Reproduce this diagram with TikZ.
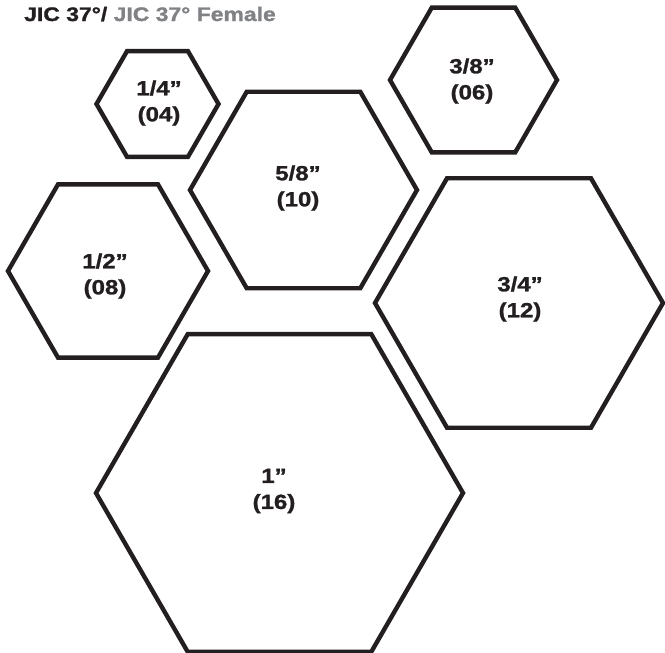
\documentclass[tikz,border=0pt]{standalone}
\usepackage{fontspec}
\setmainfont{Liberation Sans}
\newfontfamily\heavyfont{Liberation Sans Bold}[FakeBold=1.2]
\usetikzlibrary{shapes.geometric}
\definecolor{ink}{HTML}{231F20}
\definecolor{greyt}{HTML}{808285}
\tikzset{
  hexa/.style={draw=ink, line width=4.4pt, regular polygon, regular polygon sides=6, inner sep=0pt, minimum size=#1},
  lab/.style={align=center, text=ink, inner sep=0pt, font=\fontsize{20.5}{26}\selectfont\heavyfont},
}
\newcommand{\wideit}[1]{\scalebox{1.17}[1]{#1}}
\begin{document}
\begin{tikzpicture}[x=1pt,y=-1pt]
\useasboundingbox (0,0) rectangle (665,653);
% title
\node[anchor=base west, inner sep=0pt, font=\fontsize{19.6}{22}\selectfont\heavyfont] (title) at (24,21)
  {\wideit{\textcolor{ink}{JIC 37°/} \textcolor{greyt}{JIC 37° Female}}};
% hexagons
\node[hexa=122pt] (h04) at (157.5,104) {};
\node[hexa=167pt] (h06) at (473.5,80) {};
\node[hexa=200pt] (h08) at (108,271) {};
\node[hexa=227pt] (h10) at (303.5,190) {};
\node[hexa=288pt] (h12) at (519,303) {};
\node[hexa=367pt] (h16) at (279.5,493) {};
% labels
\node[lab] (l04) at (159,103) {\wideit{1/4”}\\\wideit{(04)}};
\node[lab] (l06) at (472,81) {\wideit{3/8”}\\\wideit{(06)}};
\node[lab] (l08) at (105,276) {\wideit{1/2”}\\\wideit{(08)}};
\node[lab] (l10) at (298,188) {\wideit{5/8”}\\\wideit{(10)}};
\node[lab] (l12) at (520,299) {\wideit{3/4”}\\\wideit{(12)}};
\node[lab] (l16) at (274,491) {\wideit{1”}\\\wideit{(16)}};
\end{tikzpicture}
\end{document}
